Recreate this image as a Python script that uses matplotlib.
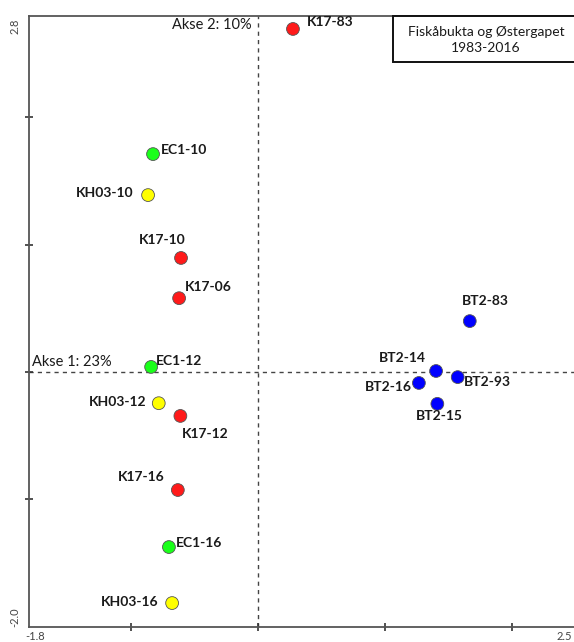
import matplotlib
matplotlib.use("Agg")
import matplotlib.pyplot as plt
from matplotlib.patches import Rectangle

plt.rcParams['font.family'] = ['Lato', 'DejaVu Sans']

# Sample scores on the first two ordination axes
samples = ['K17-83', 'EC1-10', 'KH03-10', 'K17-10', 'K17-06',
           'EC1-12', 'KH03-12', 'K17-12', 'K17-16', 'EC1-16', 'KH03-16',
           'BT2-83', 'BT2-14', 'BT2-93', 'BT2-16', 'BT2-15']
axis1 = [0.275, -0.825, -0.864, -0.605, -0.62,
         -0.84, -0.78, -0.61, -0.63, -0.70, -0.675,
         1.665, 1.40, 1.57, 1.265, 1.41]
axis2 = [2.695, 1.712, 1.39, 0.896, 0.58,
         0.04, -0.245, -0.345, -0.927, -1.375, -1.815,
         0.40, 0.008, -0.04, -0.086, -0.25]
station = ['K17', 'EC1', 'KH03', 'K17', 'K17',
           'EC1', 'KH03', 'K17', 'K17', 'EC1', 'KH03',
           'BT2', 'BT2', 'BT2', 'BT2', 'BT2']

x_range = (-1.8, 2.5)
y_range = (-2.0, 2.8)
axis1_label = 'Akse 1: 23%'
axis2_label = 'Akse 2: 10%'
title_lines = 'Fiskåbukta og Østergapet\n1983-2016'

colors = {'K17': '#ff1a1a', 'EC1': '#1aff1a', 'KH03': '#ffff00', 'BT2': '#0000ff'}

# label placement: (dx px, dy px, ha)
label_pos = {
    'K17-83': (14, 7, 'left'), 'EC1-10': (8, 4, 'left'), 'KH03-10': (-15, 2, 'right'),
    'K17-10': (-19, 18, 'center'), 'K17-06': (6, 11, 'left'), 'EC1-12': (5, 6, 'left'),
    'KH03-12': (-12, 1, 'right'), 'K17-12': (1, -18, 'left'), 'K17-16': (-13, 13, 'right'),
    'EC1-16': (7, 4, 'left'), 'KH03-16': (-14, 1, 'right'), 'BT2-83': (16, 20, 'center'),
    'BT2-14': (-10, 13, 'right'), 'BT2-93': (6, -5, 'left'), 'BT2-16': (-7, -4, 'right'),
    'BT2-15': (2, -12, 'center'),
}

W, H = 574, 642
fig = plt.figure(figsize=(W / 100, H / 100), dpi=100)
ax = fig.add_axes([29 / W, 15.4 / H, 547 / W, 611 / H])
ax.set_xlim(*x_range)
ax.set_ylim(*y_range)

spine_col = '#555555'
for s in ['left', 'bottom', 'top']:
    ax.spines[s].set_color(spine_col)
    ax.spines[s].set_linewidth(1.3)
ax.spines['right'].set_visible(False)

ax.set_xticks([-1, 0, 1, 2])
ax.set_yticks([-1, 0, 1, 2])
ax.set_xticklabels([])
ax.set_yticklabels([])
ax.tick_params(direction='inout', length=6, width=1.2, color='#333333')

ax.axhline(0, color='#444444', lw=1.0, ls=(0, (3, 3)), zorder=1)
ax.axvline(0, color='#444444', lw=1.0, ls=(0, (3, 3)), zorder=1)

ax.scatter(axis1, axis2, s=85, c=[colors[k] for k in station],
           edgecolors='#555555', linewidths=0.6, zorder=3)

for name, x, y in zip(samples, axis1, axis2):
    dx, dy, ha = label_pos[name]
    ax.annotate(name, (x, y), xytext=(dx, dy), textcoords='offset pixels',
                ha=ha, va='center', fontsize=10, fontweight='bold', color='#1a1a1a')

ax.text(-1.78, 0.02, axis1_label, ha='left', va='bottom', fontsize=10.5, color='#1a1a1a')
ax.text(-0.05, 2.726, axis2_label, ha='right', va='center', fontsize=10.5, color='#1a1a1a')

# end-of-axis labels
tick_kw = dict(fontsize=8, color='#444444')
ax.annotate(f'{y_range[1]:.1f}', (0, 1), xycoords='axes fraction', xytext=(-14, -3),
            textcoords='offset pixels', rotation=90, ha='center', va='top', **tick_kw)
ax.annotate(f'{y_range[0]:.1f}', (0, 0), xycoords='axes fraction', xytext=(-14, 0),
            textcoords='offset pixels', rotation=90, ha='center', va='bottom', **tick_kw)
ax.annotate(f'{x_range[0]:.1f}', (0, 0), xycoords='axes fraction', xytext=(-4, -4),
            textcoords='offset pixels', ha='left', va='top', **tick_kw)
ax.annotate(f'{x_range[1]:.1f}', (1, 0), xycoords='axes fraction', xytext=(-4, -4),
            textcoords='offset pixels', ha='right', va='top', **tick_kw)

# title box
fig.patches.append(Rectangle((393 / W, (H - 62) / H), 186 / W, 46 / H,
                             transform=fig.transFigure, facecolor='white',
                             edgecolor='#111111', linewidth=1.4, zorder=5))
fig.text(486 / W, (H - 40) / H, title_lines, ha='center', va='center',
         fontsize=10, linespacing=1.35, color='#1a1a1a', zorder=6)

fig.savefig('out.png', dpi=100)
